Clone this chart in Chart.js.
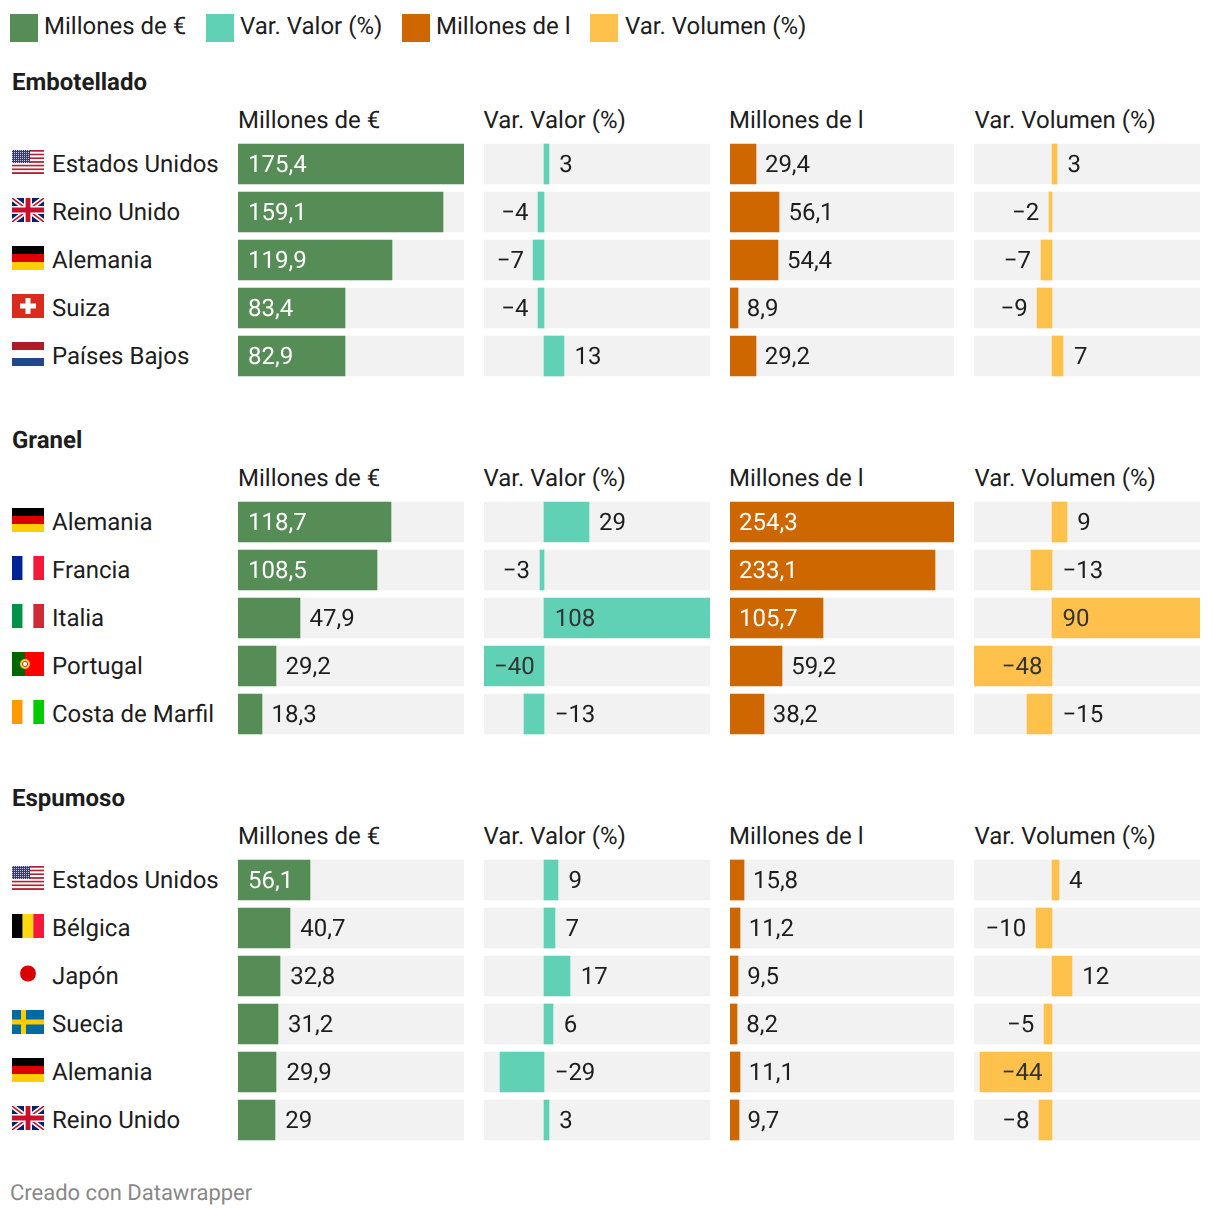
<!DOCTYPE html>
<html lang="es">
<head>
<meta charset="utf-8">
<title>Exportaciones de vino</title>
<script src="https://cdn.jsdelivr.net/npm/chart.js@4"></script>
<style>
    body { margin: 0; background: #fff; font-family: Roboto, sans-serif; color: #1d1d1d; text-rendering: geometricPrecision; }
    #page { position: relative; width: 1220px; height: 1218px; overflow: hidden; }
    #page > * { position: absolute; }
    .txt { font-size: 24px; line-height: 28px; white-space: nowrap; }
    .title { font-weight: 700; }
    .swatch { width: 28px; height: 28px; }
    .foot { color: #888; font-size: 22px; line-height: 28px; white-space: nowrap; }
    svg { display: block; }
</style>
</head>
<body>
<div id="page"></div>
<script>
const legendLabels = ['Millones de €', 'Var. Valor (%)', 'Millones de l', 'Var. Volumen (%)'];
const colors = ['#568c55', '#61d1b5', '#ce6700', '#fec24c'];

const embotelladoPaises = ['Estados Unidos', 'Reino Unido', 'Alemania', 'Suiza', 'Países Bajos'];
const embotelladoFlags = ['us', 'gb', 'de', 'ch', 'nl'];
const embotelladoEuros = [175.4, 159.1, 119.9, 83.4, 82.9];
const embotelladoVarValor = [3, -4, -7, -4, 13];
const embotelladoLitros = [29.4, 56.1, 54.4, 8.9, 29.2];
const embotelladoVarVolumen = [3, -2, -7, -9, 7];

const granelPaises = ['Alemania', 'Francia', 'Italia', 'Portugal', 'Costa de Marfil'];
const granelFlags = ['de', 'fr', 'it', 'pt', 'ci'];
const granelEuros = [118.7, 108.5, 47.9, 29.2, 18.3];
const granelVarValor = [29, -3, 108, -40, -13];
const granelLitros = [254.3, 233.1, 105.7, 59.2, 38.2];
const granelVarVolumen = [9, -13, 90, -48, -15];

const espumosoPaises = ['Estados Unidos', 'Bélgica', 'Japón', 'Suecia', 'Alemania', 'Reino Unido'];
const espumosoFlags = ['us', 'be', 'jp', 'se', 'de', 'gb'];
const espumosoEuros = [56.1, 40.7, 32.8, 31.2, 29.9, 29];
const espumosoVarValor = [9, 7, 17, 6, -29, 3];
const espumosoLitros = [15.8, 11.2, 9.5, 8.2, 11.1, 9.7];
const espumosoVarVolumen = [4, -10, 12, -5, -44, -8];

// same domain for a column in all three groups
const columnMin = [0, -39.3, 0, -47.6];
const columnMax = [175.4, 108, 254.3, 90];
const columnLeft = [238, 484, 730, 974];
const columnWidth = [226, 226, 224, 226];
const plotInset = [0.5, 0.5, 0, 0.5];
const labelGap = [10, 10.5, 9, 10.5];
const headerLeft = [238, 483.5, 729, 974.5];
const darkLabel = [false, true, false, true];

const groups = [
    { title: 'Embotellado', top: 144, names: embotelladoPaises, flags: embotelladoFlags,
      cols: [embotelladoEuros, embotelladoVarValor, embotelladoLitros, embotelladoVarVolumen] },
    { title: 'Granel', top: 502, names: granelPaises, flags: granelFlags,
      cols: [granelEuros, granelVarValor, granelLitros, granelVarVolumen] },
    { title: 'Espumoso', top: 860, names: espumosoPaises, flags: espumosoFlags,
      cols: [espumosoEuros, espumosoVarValor, espumosoLitros, espumosoVarVolumen] }
];

const stripes = (dir, list) => list.map((c, i) => {
    const n = list.length;
    return dir === 'v'
        ? `<rect x="${i * 32 / n}" y="0" width="${32 / n}" height="24" fill="${c}"/>`
        : `<rect x="0" y="${i * 24 / n}" width="32" height="${24 / n}" fill="${c}"/>`;
}).join('');

const usStripes = Array.from({ length: 13 }, (_, i) =>
    `<rect x="0" y="${i * 24 / 13}" width="32" height="${24 / 13}" fill="${i % 2 ? '#fff' : '#b22234'}"/>`).join('');
const ukFlag = `<rect width="32" height="24" fill="#012169"/>
    <path d="M0 0L32 24M32 0L0 24" stroke="#fff" stroke-width="5"/>
    <path d="M0 0L32 24M32 0L0 24" stroke="#c8102e" stroke-width="1.6"/>
    <path d="M16 0V24M0 12H32" stroke="#fff" stroke-width="8"/>
    <path d="M16 0V24M0 12H32" stroke="#c8102e" stroke-width="4.8"/>`;

const flagArt = {
    us: usStripes + '<rect width="18" height="13" fill="url(#stars)"/>',
    gb: ukFlag,
    de: stripes('h', ['#000', '#dd0000', '#ffce00']),
    ch: '<rect width="32" height="24" fill="#d92b1e"/><path d="M16 4V20M8 12H24" stroke="#fff" stroke-width="5"/>',
    nl: stripes('h', ['#ae1c28', '#fff', '#21468b']),
    fr: stripes('v', ['#002395', '#fff', '#f5183a']),
    it: stripes('v', ['#009246', '#fff', '#ce2b37']),
    pt: '<rect width="13" height="24" fill="#006600"/><rect x="13" width="19" height="24" fill="#ff0000"/><circle cx="13" cy="12" r="5" fill="#ffcc33"/><circle cx="13" cy="12" r="2.6" fill="#fff" stroke="#c33" stroke-width="1"/>',
    ci: stripes('v', ['#ff9900', '#fff', '#00cc00']),
    be: stripes('v', ['#000', '#ffd90c', '#f5183a']),
    jp: '<circle cx="16" cy="11.5" r="8" fill="#d80000"/>',
    se: '<rect width="32" height="24" fill="#006aa7"/><path d="M11.5 0V24M0 12H32" stroke="#fecc00" stroke-width="5"/>'
};

const page = document.getElementById('page');

function addText(text, left, centerY, cls) {
    const el = document.createElement('div');
    el.className = cls || 'txt';
    el.textContent = text;
    el.style.left = left + 'px';
    el.style.top = (centerY - 14) + 'px';
    page.appendChild(el);
}

function addFlag(code, top) {
    const el = document.createElement('div');
    el.style.left = '12px';
    el.style.top = top + 'px';
    el.innerHTML = `<svg width="32" height="24" viewBox="0 0 32 24">
        <defs><pattern id="stars" width="2" height="2" patternUnits="userSpaceOnUse"><rect width="2" height="2" fill="#3c3b6e"/><rect width="1" height="1" fill="#c6c8dc"/></pattern></defs>
        ${flagArt[code]}</svg>`;
    page.appendChild(el);
}

function formatValue(v) {
    return String(v).replace('.', ',').replace('-', '−');
}

// bars in the original sit on whole pixels
const snapBars = {
    id: 'snapBars',
    beforeDatasetsDraw(chart) {
        chart.data.datasets.forEach((d, i) => {
            chart.getDatasetMeta(i).data.forEach(bar => {
                bar.x = Math.round(bar.x);
                bar.base = Math.round(bar.base);
            });
        });
    }
};

// datawrapper style label: inside when it fits, else next to the bar
const valueLabels = {
    id: 'valueLabels',
    afterDatasetsDraw(chart, args, opts) {
        const { ctx, scales: { x }, chartArea } = chart;
        const meta = chart.getDatasetMeta(1);
        const zero = x.getPixelForValue(0);
        const gap = opts.gap;
        ctx.save();
        ctx.font = '24px Roboto, sans-serif';
        ctx.textRendering = 'geometricPrecision';
        ctx.textBaseline = 'middle';
        chart.data.datasets[1].data.forEach((v, i) => {
            const text = formatValue(v);
            const w = ctx.measureText(text).width;
            const end = x.getPixelForValue(v);
            const barW = Math.abs(end - zero);
            const y = meta.data[i].y + 2;
            const inside = w + 20 <= barW;
            ctx.fillStyle = inside && !opts.dark ? '#fff' : (inside ? '#333' : '#1d1d1d');
            if (inside) {
                ctx.textAlign = v < 0 ? 'right' : 'left';
                ctx.fillText(text, v < 0 ? zero - gap + 1 : zero + gap, y);
            } else if (v < 0 && end - gap - w >= chartArea.left + 8) {
                ctx.textAlign = 'right';
                ctx.fillText(text, end - gap + 1, y);
            } else {
                ctx.textAlign = 'left';
                ctx.fillText(text, Math.max(end, zero) + gap, y);
            }
        });
        ctx.restore();
    }
};

function addPanel(names, values, col, top) {
    const canvas = document.createElement('canvas');
    const height = names.length * 48;
    canvas.width = columnWidth[col];
    canvas.height = height;
    canvas.style.left = columnLeft[col] + 'px';
    canvas.style.top = (top - 4) + 'px';
    canvas.style.width = columnWidth[col] + 'px';
    canvas.style.height = height + 'px';
    page.appendChild(canvas);

    new Chart(canvas, {
        type: 'bar',
        data: {
            labels: names,
            datasets: [{
                data: names.map(() => [columnMin[col], columnMax[col]]),
                backgroundColor: '#f2f2f2',
                barThickness: 40,
                grouped: false,
                clip: false,
                order: 2
            }, {
                data: values,
                backgroundColor: colors[col],
                barThickness: 40,
                grouped: false,
                clip: false,
                order: 1
            }]
        },
        options: {
            indexAxis: 'y',
            responsive: false,
            animation: false,
            layout: { padding: { right: plotInset[col] } },
            plugins: {
                legend: { display: false },
                tooltip: { enabled: false },
                valueLabels: { dark: darkLabel[col], gap: labelGap[col] }
            },
            scales: {
                x: { display: false, min: columnMin[col], max: columnMax[col] },
                y: { display: false }
            }
        },
        plugins: [snapBars, valueLabels]
    });
}

// legend
const legendLeft = [10, 206, 402, 590];
const legendTextLeft = [44, 240, 436, 625];
legendLabels.forEach((label, i) => {
    const sw = document.createElement('div');
    sw.className = 'swatch';
    sw.style.left = legendLeft[i] + 'px';
    sw.style.top = '14px';
    sw.style.background = colors[i];
    page.appendChild(sw);
    addText(label, legendTextLeft[i], 26);
});

groups.forEach(g => {
    addText(g.title, 12, g.top - 62, 'txt title');
    legendLabels.forEach((label, c) => addText(label, headerLeft[c], g.top - 24));
    g.names.forEach((name, i) => {
        const rowTop = g.top + i * 48;
        addFlag(g.flags[i], rowTop + 6);
        addText(name, 52, rowTop + 20);
    });
    g.cols.forEach((values, c) => addPanel(g.names, values, c, g.top));
});

addText('Creado con Datawrapper', 10, 1194, 'foot');
</script>
</body>
</html>
